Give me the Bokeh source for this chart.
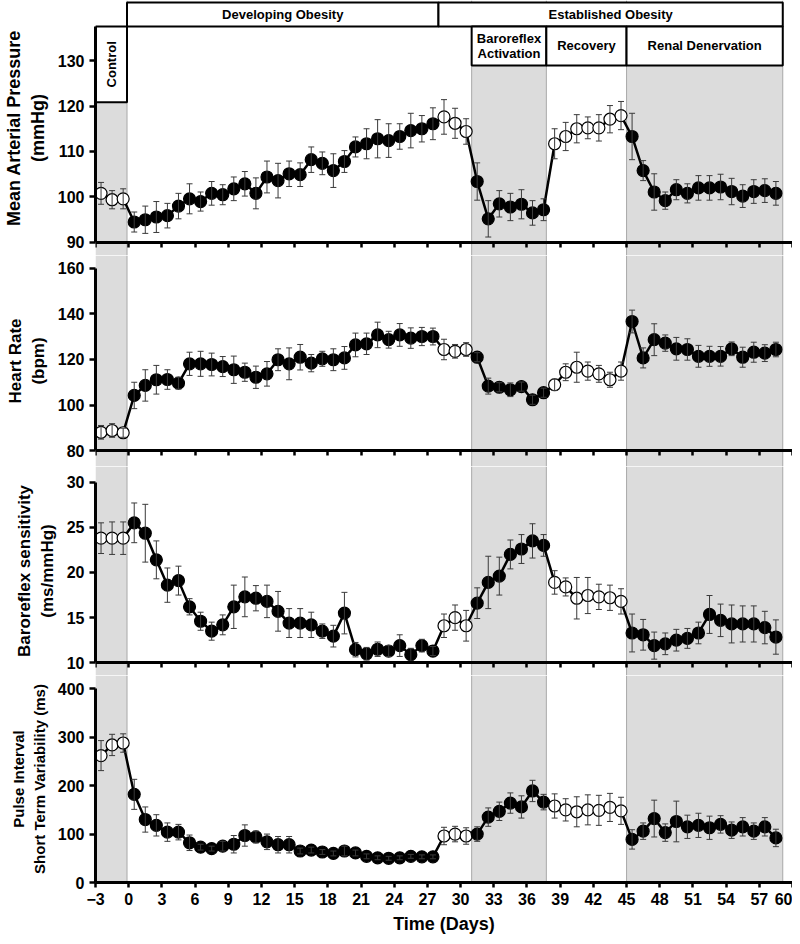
import numpy as np
from bokeh.plotting import figure
from bokeh.models import (Range1d, LinearAxis, FixedTicker, BoxAnnotation, Span,
                          Whisker, TeeHead, ColumnDataSource)
from bokeh.layouts import column
from bokeh.core.properties import value
from bokeh.embed import file_html
from bokeh.resources import INLINE

# ---------------- data ----------------
DAYS = [-2.5, -1.5, -0.5,
        0.5, 1.5, 2.5, 3.5, 4.5, 5.5, 6.5, 7.5, 8.5, 9.5, 10.5, 11.5, 12.5, 13.5,
        14.5, 15.5, 16.5, 17.5, 18.5, 19.5, 20.5, 21.5, 22.5, 23.5, 24.5, 25.5, 26.5, 27.5,
        28.5, 29.5, 30.5,
        31.5, 32.5, 33.5, 34.5, 35.5, 36.5, 37.5,
        38.5, 39.5, 40.5, 41.5, 42.5, 43.5, 44.5,
        45.5, 46.5, 47.5, 48.5, 49.5, 50.5, 51.5, 52.5, 53.5, 54.5, 55.5, 56.5, 57.5, 58.5]

MAP = [100.8, 99.4, 99.6,
       94.5, 95.0, 95.6, 95.9, 98.0, 99.6, 99.0, 100.8, 100.5, 101.8, 102.9, 100.8, 104.4, 103.6,
       105.1, 104.9, 108.2, 107.4, 105.8, 107.8, 111.0, 111.7, 112.8, 112.4, 113.3, 114.6, 115.0, 116.1,
       117.6, 116.2, 114.4,
       103.4, 95.2, 98.5, 97.8, 98.4, 96.5, 97.2,
       111.7, 113.3, 115.0, 115.2, 115.2, 117.1, 117.9,
       113.3, 105.8, 101.1, 99.2, 101.6, 100.8, 102.0, 102.0, 102.2, 101.2, 100.2, 101.2, 101.4, 100.8]
MAP_SEM = [2.4, 2.0, 2.2,
           2.2, 3.0, 3.4, 2.7, 2.8, 3.3, 2.1, 2.6, 2.2, 2.6, 2.7, 3.4, 3.5, 3.8,
           2.8, 2.6, 2.8, 2.5, 3.7, 2.4, 2.2, 3.3, 4.2, 3.7, 2.8, 3.8, 2.9, 3.5,
           3.8, 3.3, 2.8,
           4.1, 4.0, 2.9, 3.0, 3.2, 2.7, 2.4,
           3.3, 3.1, 3.1, 2.4, 2.9, 3.0, 3.1,
           5.1, 2.2, 4.0, 1.9, 2.2, 2.1, 2.7, 2.7, 2.8, 2.9, 2.5, 2.6, 2.6, 2.6]

HR = [88.0, 88.8, 87.8,
      104.2, 108.6, 111.1, 111.2, 109.6, 118.1, 118.1, 117.8, 116.9, 115.5, 114.4, 112.2, 113.7, 119.9,
      118.1, 121.0, 118.4, 120.3, 119.9, 120.7, 126.4, 126.9, 130.8, 128.7, 130.8, 129.4, 130.1, 130.1,
      124.4, 123.6, 124.4,
      121.0, 108.3, 107.8, 106.7, 108.1, 102.3, 105.4,
      108.9, 114.4, 116.6, 114.9, 113.7, 111.1, 114.9,
      136.7, 120.7, 128.7, 127.2, 124.7, 124.4, 121.4, 121.4, 121.4, 124.7, 121.0, 123.2, 122.8, 124.4]
HR_SEM = [3.0, 3.0, 2.0,
          5.8, 6.9, 6.3, 4.3, 2.6, 5.1, 5.5, 5.0, 4.4, 6.0, 4.0, 4.9, 5.4, 4.8,
          7.0, 5.6, 3.8, 3.3, 4.8, 5.0, 5.2, 4.7, 5.6, 3.7, 5.0, 4.5, 4.0, 3.7,
          4.5, 3.0, 3.0,
          2.0, 3.5, 2.0, 3.0, 2.0, 2.0, 2.0,
          2.5, 3.7, 6.6, 4.0, 3.7, 3.3, 4.0,
          5.0, 4.4, 7.0, 3.6, 5.0, 4.7, 4.8, 4.4, 4.3, 3.0, 4.4, 4.4, 3.7, 3.2]

BRS = [23.8, 23.8, 23.8,
       25.5, 24.35, 21.4, 18.6, 19.1, 16.2, 14.6, 13.5, 14.2, 16.2, 17.3, 17.15, 16.8, 15.7,
       14.4, 14.4, 14.2, 13.5, 12.95, 15.5, 11.45, 11.0, 11.5, 11.3, 11.9, 10.9, 11.9, 11.3,
       14.1, 15.0, 14.1,
       16.6, 18.9, 19.6, 22.0, 22.6, 23.5, 23.0,
       18.9, 18.4, 17.15, 17.45, 17.3, 17.2, 16.8,
       13.3, 13.1, 11.9, 12.1, 12.5, 12.7, 13.3, 15.35, 14.7, 14.3, 14.3, 14.3, 13.9, 12.85]
BRS_SEM = [1.7, 1.8, 1.8,
           2.2, 3.2, 2.1, 1.9, 1.6, 0.9, 1.0, 1.0, 1.1, 2.4, 2.2, 1.4, 1.8, 2.2,
           1.6, 1.6, 1.4, 0.8, 1.2, 2.3, 0.8, 0.7, 0.8, 0.6, 1.2, 0.7, 0.7, 0.5,
           1.3, 1.4, 1.7,
           1.7, 2.9, 2.1, 1.6, 1.6, 1.9, 1.2,
           1.3, 1.0, 2.3, 2.0, 1.4, 1.4, 1.4,
           2.1, 1.7, 1.5, 1.2, 1.2, 1.1, 1.2, 2.1, 1.8, 2.1, 2.0, 2.0, 1.8, 1.9]

PI_STV = [262, 284, 288,
          182, 130, 118, 104, 104, 82, 73, 70, 75, 79, 97, 94, 84, 78,
          78, 65, 67, 63, 60, 65, 61, 54, 51, 50, 51, 54, 53, 53,
          96, 100, 96,
          100, 135, 147, 164, 156, 189, 166,
          158, 150, 146, 150, 149, 155, 148,
          89, 106, 132, 103, 126, 115, 118, 113, 120, 108, 115, 106, 115, 92]
PI_SEM = [31, 22, 19,
          31, 26, 22, 19, 16, 16, 6, 5, 10, 18, 22, 12, 16, 17,
          17, 6, 6, 5, 5, 10, 6, 5, 4, 4, 4, 4, 4, 4,
          18, 16, 17,
          15, 19, 19, 21, 23, 22, 16,
          25, 23, 31, 31, 31, 29, 28,
          20, 17, 38, 18, 42, 24, 25, 24, 18, 17, 19, 17, 19, 18]

# study phases (days)
PHASES = ["Control", "Developing Obesity", "Established Obesity",
          "Baroreflex\nActivation", "Recovery", "Renal Denervation"]
PHASE_START = [-3, -0.15, 28, 31, 37.75, 45]
PHASE_END = [-0.15, 28, 59.12, 37.75, 45, 59.12]
SHADED = ["Control", "Baroreflex\nActivation", "Renal Denervation"]
UNTREATED = ["Control", "Recovery"]          # open symbols
UNTREATED_WINDOWS = [(28, 31)]               # established-obesity baseline, open symbols

X_TICKS = [-3, 0, 3, 6, 9, 12, 15, 18, 21, 24, 27, 30, 33, 36, 39, 42, 45, 48, 51, 54, 57, 60]

# ---------------- layout / style ----------------
FONT = "Liberation Sans"
SHADE = "#dcdcdc"
EDGE = "#a9a9a9"
ERR = "#3a3a3a"

# header boxes, in data units of the top panel
ROW1_TOP, ROW_SPLIT, ROW2_BOT, CTRL_BOT = 142.75, 137.48, 128.9, 120.84
HDR_TOP = {"Control": ROW_SPLIT, "Developing Obesity": ROW1_TOP, "Established Obesity": ROW1_TOP,
           "Baroreflex\nActivation": ROW_SPLIT, "Recovery": ROW_SPLIT, "Renal Denervation": ROW_SPLIT}
HDR_BOT = {"Control": CTRL_BOT, "Developing Obesity": ROW_SPLIT, "Established Obesity": ROW_SPLIT,
           "Baroreflex\nActivation": ROW2_BOT, "Recovery": ROW2_BOT, "Renal Denervation": ROW2_BOT}

PANELS = [
    dict(y=MAP, sem=MAP_SEM, label="Mean Arterial Pressure\n(mmHg)", ticks=[90, 100, 110, 120, 130],
         bounds=(90, ROW_SPLIT), rng=(87.14, 143.19), h=255, lab_size="18px"),
    dict(y=HR, sem=HR_SEM, label="Heart Rate\n(bpm)", ticks=[80, 100, 120, 140, 160],
         bounds=(80, 160), rng=(72.97, 165.71), h=211, lab_size="17px"),
    dict(y=BRS, sem=BRS_SEM, label="Baroreflex sensitivity\n(ms/mmHg)", ticks=[10, 15, 20, 25, 30],
         bounds=(10, 30), rng=(8.59, 31.74), h=209, lab_size="17px"),
    dict(y=PI_STV, sem=PI_SEM, label="Pulse Interval\nShort Term Variability (ms)",
         ticks=[0, 100, 200, 300, 400], bounds=(0, 400), rng=(0, 427.4), h=261, lab_size="15px"),
]

x_range = Range1d(-3, 60)


def is_open(d):
    for name in UNTREATED:
        k = PHASES.index(name)
        if PHASE_START[k] < d < PHASE_END[k]:
            return True
    return any(a < d < b for a, b in UNTREATED_WINDOWS)


def style_axis(ax, tick_out):
    ax.axis_line_width = 3
    ax.axis_line_color = "black"
    ax.major_tick_line_width = 2.5
    ax.major_tick_line_color = "black"
    ax.major_tick_out = tick_out
    ax.major_tick_in = 0
    ax.minor_tick_out = 0
    ax.minor_tick_in = 0
    ax.major_label_text_font = FONT
    ax.major_label_text_font_style = "bold"
    ax.major_label_text_font_size = "16px"
    ax.major_label_text_color = "black"
    ax.major_label_standoff = 5


figs = []
for i, cfg in enumerate(PANELS):
    last = i == len(PANELS) - 1
    p = figure(width=792, height=cfg["h"], x_range=x_range, y_range=Range1d(*cfg["rng"]),
               output_backend="svg", toolbar_location=None,
               x_axis_location="below" if last else None,
               min_border_left=93, min_border_right=0, min_border_top=0,
               min_border_bottom=54 if last else 0)
    p.outline_line_color = None
    p.xgrid.grid_line_color = None
    p.ygrid.grid_line_color = None
    p.background_fill_color = "white"
    p.border_fill_color = "white"

    # shaded intervention periods
    for name in SHADED:
        k = PHASES.index(name)
        kw = dict(left=PHASE_START[k], right=PHASE_END[k], fill_color=SHADE, fill_alpha=1,
                  line_color=None, level="underlay")
        if i == 0:
            kw["top"] = HDR_BOT[name]
        p.add_layout(BoxAnnotation(**kw))
        for xb in (PHASE_START[k], PHASE_END[k]):
            if xb > -3:
                p.add_layout(Span(location=xb, dimension="height", line_color=EDGE,
                                  line_width=1, level="underlay"))

    vals = cfg["y"]
    sems = cfg["sem"]
    src = ColumnDataSource(dict(
        x=DAYS, y=vals,
        upper=[v + s for v, s in zip(vals, sems)],
        lower=[v - s for v, s in zip(vals, sems)],
        fill=["white" if is_open(d) else "black" for d in DAYS]))

    p.add_layout(Whisker(base="x", upper="upper", lower="lower", source=src,
                         line_color=ERR, line_width=1, level="glyph",
                         upper_head=TeeHead(size=6, line_color=ERR, line_width=1),
                         lower_head=TeeHead(size=6, line_color=ERR, line_width=1)))
    p.line("x", "y", source=src, line_color="black", line_width=2.5)
    p.scatter("x", "y", source=src, size=12, fill_color="fill", line_color="black", line_width=1.2)

    # y axis
    ya = p.yaxis[0]
    style_axis(ya, 6)
    ya.ticker = FixedTicker(ticks=cfg["ticks"])
    ya.bounds = cfg["bounds"]
    ya.axis_label = cfg["label"]
    ya.axis_label_text_font = FONT
    ya.axis_label_text_font_style = "bold"
    ya.axis_label_text_font_size = cfg["lab_size"]
    ya.axis_label_text_color = "black"
    ya.axis_label_standoff = 7

    # x axis
    if last:
        xa = p.xaxis[0]
        style_axis(xa, 5)
        xa.ticker = FixedTicker(ticks=X_TICKS)
        xa.axis_label = "Time (Days)"
        xa.axis_label_text_font = FONT
        xa.axis_label_text_font_style = "bold"
        xa.axis_label_text_font_size = "18px"
        xa.axis_label_text_color = "black"
        xa.axis_label_standoff = 6
    else:
        xa = LinearAxis(fixed_location=cfg["bounds"][0])
        style_axis(xa, 5)
        xa.ticker = FixedTicker(ticks=X_TICKS)
        xa.major_label_text_color = None
        p.add_layout(xa, "below")

    # phase header boxes on top panel
    if i == 0:
        hdr = ColumnDataSource(dict(
            left=PHASE_START, right=PHASE_END,
            top=[HDR_TOP[n] for n in PHASES], bottom=[HDR_BOT[n] for n in PHASES],
            cx=[(a + b) / 2 for a, b in zip(PHASE_START, PHASE_END)],
            cy=[(HDR_TOP[n] + HDR_BOT[n]) / 2 for n in PHASES],
            ang=[np.pi / 2 if n == "Control" else 0 for n in PHASES],
            text=PHASES))
        p.quad(left="left", right="right", top="top", bottom="bottom", source=hdr,
               fill_color="white", line_color="black", line_width=2)
        p.text(x="cx", y="cy", text="text", angle="ang", source=hdr,
               text_font=value(FONT), text_font_style="bold", text_font_size="13px",
               text_align="center", text_baseline="middle", text_color="black",
               text_line_height=1.05)

    figs.append(p)

layout = column(*figs, spacing=0)
open("out.html", "w").write(file_html(layout, INLINE))
